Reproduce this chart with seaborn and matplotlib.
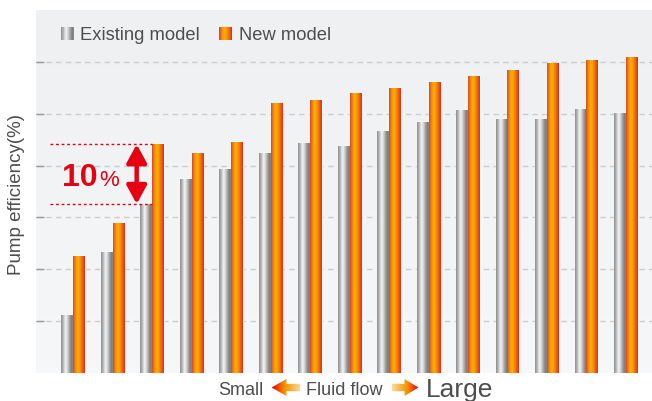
import numpy as np
import pandas as pd
import matplotlib
matplotlib.use("Agg")
import matplotlib.pyplot as plt
import seaborn as sns
from matplotlib.colors import LinearSegmentedColormap
from matplotlib.legend_handler import HandlerBase
from matplotlib.patches import Rectangle, Polygon

# ---------------- data ----------------
groups = list(range(1, 16))
existing = [1.12, 2.33, 3.26, 3.74, 3.93, 4.24, 4.43, 4.38, 4.67, 4.84, 5.07, 4.90, 4.90, 5.09, 5.01]
new = [2.26, 2.89, 4.41, 4.24, 4.45, 5.21, 5.26, 5.40, 5.50, 5.61, 5.73, 5.84, 5.98, 6.04, 6.09]
series = ["Existing model", "New model"]
grid_levels = [1, 2, 3, 4, 5, 6]
y_max = 7
ylabel = "Pump efficiency(%)"
flow_labels = ["Small", "Fluid flow", "Large"]
diff_label = ["10", "%"]
highlight = 2  # group index of the 10% annotation

df = pd.DataFrame({
    "group": groups * 2,
    "model": [series[0]] * len(groups) + [series[1]] * len(groups),
    "eff": existing + new,
})

# ---------------- style ----------------
sns.set_theme(style="white")
plt.rcParams["font.family"] = ["Liberation Sans", "DejaVu Sans"]

RED = "#e60012"
TXT = "#4d4d4d"
gray_cmap = LinearSegmentedColormap.from_list(
    "g", [(0, "#8e8e8e"), (0.18, "#b8b8b8"), (0.38, "#f4f4f4"), (0.5, "#e0e0e0"),
          (0.75, "#9a9a9a"), (0.9, "#7c7c7c"), (1, "#8a8a8a")])
orange_cmap = LinearSegmentedColormap.from_list(
    "o", [(0, "#d9442a"), (0.15, "#ee7a18"), (0.38, "#fbb000"), (0.55, "#f7a000"),
          (0.8, "#f06018"), (1, "#e52a18")])
bg_cmap = LinearSegmentedColormap.from_list("bg", ["#eef0f2", "#f6f7f8"])

fig = plt.figure(figsize=(6.52, 4.01), dpi=100)
ax = fig.add_axes([36 / 652, 28 / 401, 616 / 652, 363 / 401])

sns.barplot(data=df, x="group", y="eff", hue="model", order=groups,
            hue_order=series, palette=["#bbbbbb", "#f39800"], width=0.6,
            saturation=1, legend=False, ax=ax, zorder=2)

XL = (-0.94, 14.66)
ax.set_xlim(*XL)
ax.set_ylim(0, y_max)

# gradient fill of bars
grad = np.linspace(0, 1, 64).reshape(1, -1)
for cont, cmap in zip(ax.containers, [gray_cmap, orange_cmap]):
    for p in cont:
        x0, w, h = p.get_x(), p.get_width(), p.get_height()
        im = ax.imshow(grad, cmap=cmap, extent=[x0, x0 + w, 0, h], aspect="auto",
                       zorder=2.1, interpolation="bilinear")
        im.set_clip_path(p)

# background gradient
bgim = ax.imshow(np.linspace(0, 1, 64).reshape(-1, 1), cmap=bg_cmap, extent=[0, 1, 0, 1],
                 transform=ax.transAxes, aspect="auto", zorder=-1)
ax.set_xlim(*XL)
ax.set_ylim(0, y_max)

# grid / ticks
ax.set_yticks(grid_levels)
ax.set_xticks([])
ax.set_xlabel("")
ax.grid(axis="y", linestyle=(0, (4, 3)), color="#cdcdcd", linewidth=1)
ax.set_axisbelow(True)
ax.tick_params(axis="y", left=True, direction="in", length=6, width=1,
               color="#9a9a9a", labelleft=False)
for s in ax.spines.values():
    s.set_visible(False)

ax.set_ylabel(ylabel, fontsize=13.5, color=TXT)
ax.yaxis.set_label_coords(-0.018, 0.493)

# legend with gradient swatches
class GradHandler(HandlerBase):
    def __init__(self, cmap, n=20):
        super().__init__()
        self.cmap = cmap
        self.n = n

    def create_artists(self, legend, orig_handle, xdescent, ydescent, width, height,
                       fontsize, trans):
        arts = []
        s = min(width, height)
        x0 = -xdescent
        y0 = -ydescent + (height - s) / 2
        dw = s / self.n
        for i in range(self.n):
            r = Rectangle((x0 + i * dw, y0), dw * 1.05, s,
                          facecolor=self.cmap((i + 0.5) / self.n), edgecolor="none",
                          transform=trans)
            arts.append(r)
        return arts

h1 = Rectangle((0, 0), 1, 1)
h2 = Rectangle((0, 0), 1, 1)
leg = ax.legend([h1, h2], series, handler_map={h1: GradHandler(gray_cmap), h2: GradHandler(orange_cmap)},
                loc="upper left", bbox_to_anchor=(0.0406, 0.953), bbox_transform=ax.transAxes,
                frameon=False, borderpad=0, borderaxespad=0, ncol=2, fontsize=13.2,
                handlelength=0.7, handleheight=0.7, handletextpad=0.35, columnspacing=1.05)
for t in leg.get_texts():
    t.set_color(TXT)

# 10% annotation (from group values)
e_v, n_v = existing[highlight], new[highlight]
ax.hlines([e_v, n_v], xmin=highlight - 2.58, xmax=highlight, colors=RED,
          linestyles=(0, (2, 2)), linewidth=1, zorder=4)
ax.annotate("", xy=(highlight - 0.39, n_v), xytext=(highlight - 0.39, e_v),
            arrowprops=dict(arrowstyle="<|-|>,head_length=0.55,head_width=0.3",
                            color=RED, lw=3.2, shrinkA=0, shrinkB=0, mutation_scale=20),
            zorder=5)
ymid = (e_v + n_v) / 2
ax.text(highlight - 1.37, ymid - 0.235, diff_label[0], color=RED, fontsize=23,
        fontweight="bold", ha="right", va="baseline", zorder=5)
ax.text(highlight - 1.33, ymid - 0.235, diff_label[1], color=RED, fontsize=16,
        ha="left", va="baseline", zorder=5)

# bottom "Small <- Fluid flow -> Large" in pixel overlay
ov = fig.add_axes([0, 0, 1, 1], zorder=5)
ov.set_xlim(0, 652)
ov.set_ylim(401, 0)
ov.axis("off")
ov.text(263.5, 395, flow_labels[0], fontsize=13, color=TXT, ha="right", va="baseline")
ov.text(306, 395, flow_labels[1], fontsize=13, color=TXT, ha="left", va="baseline")
ov.text(426, 396.5, flow_labels[2], fontsize=19, color=TXT, ha="left", va="baseline")

arrow_cmap = LinearSegmentedColormap.from_list("a", [(0, RED), (0.45, "#f39800"), (1, "#fcd9a0")])
def block_arrow(tail, tip):
    d = 1 if tip > tail else -1
    hl = 15 if d < 0 else 14
    yc = 387.5
    pts = [(tail, yc - 3.7), (tip - d * hl, yc - 3.7), (tip - d * hl, yc - 8.5), (tip, yc),
           (tip - d * hl, yc + 8.5), (tip - d * hl, yc + 3.7), (tail, yc + 3.7)]
    poly = Polygon(pts, closed=True, facecolor="none", edgecolor="none")
    ov.add_patch(poly)
    g = np.linspace(0, 1, 64).reshape(1, -1)
    if d > 0:
        g = g[:, ::-1]
    x0, x1 = min(tail, tip), max(tail, tip)
    im = ov.imshow(g, cmap=arrow_cmap, extent=[x0, x1, yc + 9, yc - 9], aspect="auto",
                   interpolation="bilinear")
    im.set_clip_path(poly)

block_arrow(300, 271.5)
block_arrow(391.5, 418.5)
ov.set_xlim(0, 652)
ov.set_ylim(401, 0)

fig.savefig("out.png", dpi=100, facecolor="white")
